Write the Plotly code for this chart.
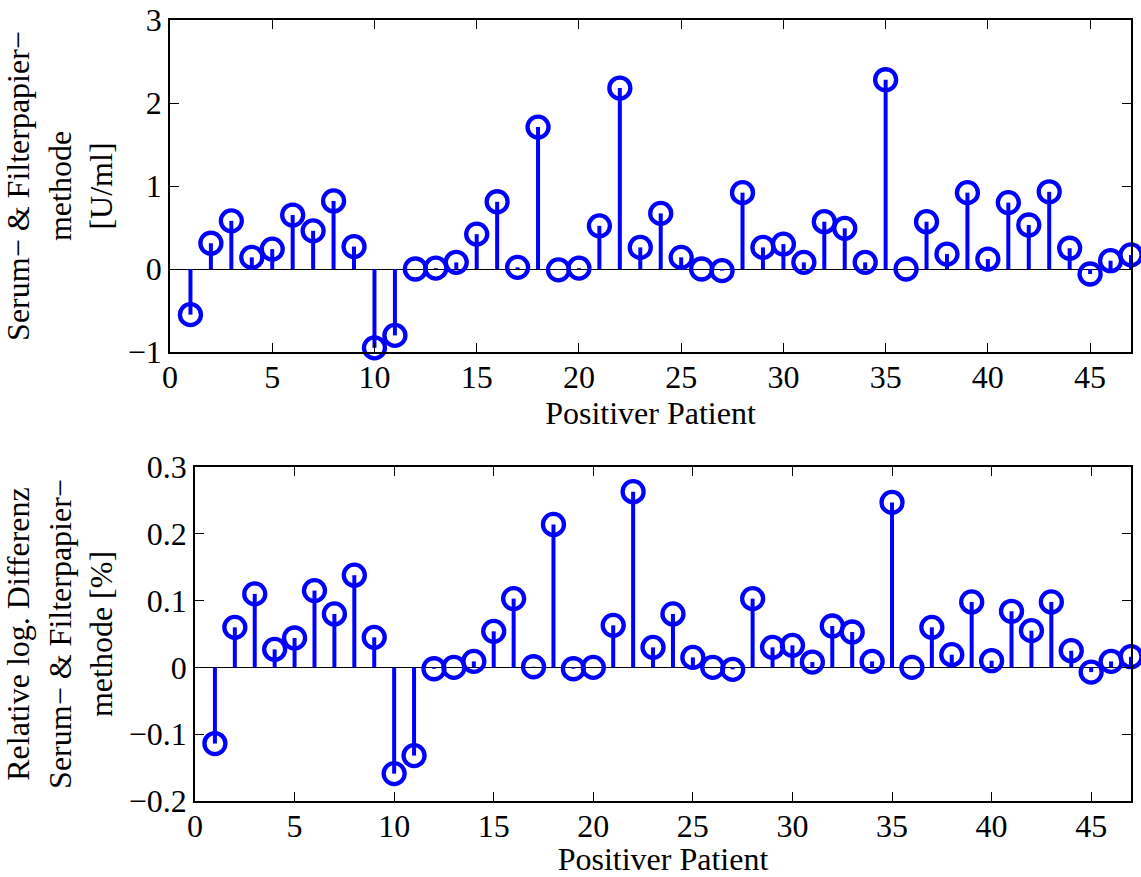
import plotly.graph_objects as go

patients = list(range(1, 48))

diff_uml = [-0.55, 0.31, 0.58, 0.14, 0.24, 0.65, 0.46, 0.82, 0.27, -0.95,
            -0.80, 0.00, 0.01, 0.08, 0.42, 0.81, 0.02, 1.71, -0.01, 0.01,
            0.52, 2.18, 0.26, 0.67, 0.14, 0.00, -0.02, 0.92, 0.26, 0.30,
            0.08, 0.57, 0.49, 0.08, 2.28, 0.00, 0.57, 0.18, 0.92, 0.12,
            0.80, 0.53, 0.93, 0.25, -0.06, 0.10, 0.17]

rel_log_diff = [-0.114, 0.060, 0.110, 0.027, 0.044, 0.115, 0.080, 0.138, 0.045, -0.159,
                -0.132, -0.002, 0.000, 0.009, 0.054, 0.103, 0.001, 0.214, -0.002, 0.000,
                0.063, 0.263, 0.030, 0.080, 0.015, 0.000, -0.003, 0.103, 0.030, 0.033,
                0.008, 0.062, 0.053, 0.009, 0.247, 0.000, 0.060, 0.019, 0.098, 0.010,
                0.084, 0.055, 0.098, 0.025, -0.007, 0.009, 0.016]

x_ticks = [0, 5, 10, 15, 20, 25, 30, 35, 40, 45]
y1_ticks = [-1, 0, 1, 2, 3]
y2_ticks = [-0.2, -0.1, 0, 0.1, 0.2, 0.3]
y2_ticktext = ["\u22120.2", "\u22120.1", "0", "0.1", "0.2", "0.3"]
x_label = "Positiver Patient"
y1_label = "Serum\u2212 & Filterpapier\u2212<br>methode<br>[U/ml]"
y2_label = "Relative log. Differenz<br>Serum\u2212 & Filterpapier\u2212<br>methode [%]"

BLUE = "#0000ff"
FONT = "Liberation Serif"
FS = 32


def stem_xy(xs, ys):
    sx, sy = [], []
    for xv, yv in zip(xs, ys):
        sx += [xv, xv, None]
        sy += [0, yv, None]
    return sx, sy


fig = go.Figure()

for vals, xa, ya in [(diff_uml, "x", "y"), (rel_log_diff, "x2", "y2")]:
    sx, sy = stem_xy(patients, vals)
    fig.add_trace(go.Scatter(x=sx, y=sy, mode="lines", xaxis=xa, yaxis=ya,
                             line=dict(color=BLUE, width=4), hoverinfo="skip",
                             showlegend=False))
    fig.add_trace(go.Scatter(x=patients, y=vals, mode="markers", xaxis=xa, yaxis=ya,
                             cliponaxis=False,
                             marker=dict(symbol="circle-open", size=21, color=BLUE,
                                         line=dict(width=4.3, color=BLUE)),
                             showlegend=False))

W, H = 1141, 877
tfont = dict(family=FONT, size=FS, color="black")
common_x = dict(range=[0, 47], tickvals=x_ticks, ticks="inside", ticklen=9,
                tickcolor="black", tickwidth=1.3, showline=True, linecolor="black",
                linewidth=1.5, mirror="ticks", showgrid=False, zeroline=False,
                automargin=False, tickfont=tfont, ticklabelstandoff=-4,
                title=dict(text=x_label, font=tfont, standoff=0))
common_y = dict(ticks="inside", ticklen=9, tickcolor="black", tickwidth=1.3,
                showline=True, linecolor="black", linewidth=1.5, mirror="ticks",
                showgrid=False, zeroline=True, zerolinecolor="black",
                zerolinewidth=1.3, automargin=False, tickfont=tfont)

fig.update_layout(
    template="none",
    width=W, height=H,
    margin=dict(l=0, r=0, t=0, b=0, pad=0),
    paper_bgcolor="white", plot_bgcolor="white",
    font=tfont,
    xaxis=dict(domain=[170 / W, 1131 / W], anchor="y", **common_x),
    yaxis=dict(domain=[1 - 352 / H, 1 - 20 / H], anchor="x", range=[-1, 3],
               tickvals=y1_ticks,
               title=dict(text=y1_label, font=tfont, standoff=10),
               **common_y),
    xaxis2=dict(domain=[195 / W, 1131 / W], anchor="y2", **common_x),
    yaxis2=dict(domain=[1 - 801 / H, 1 - 467 / H], anchor="x2", range=[-0.2, 0.3],
                tickvals=y2_ticks, ticktext=y2_ticktext,
                title=dict(text=y2_label, font=tfont, standoff=10),
                **common_y),
)

fig.write_html("out.html",
               config={"displayModeBar": False},
               post_script="document.body.style.margin='0';"
                           "document.body.style.overflow='hidden';")
